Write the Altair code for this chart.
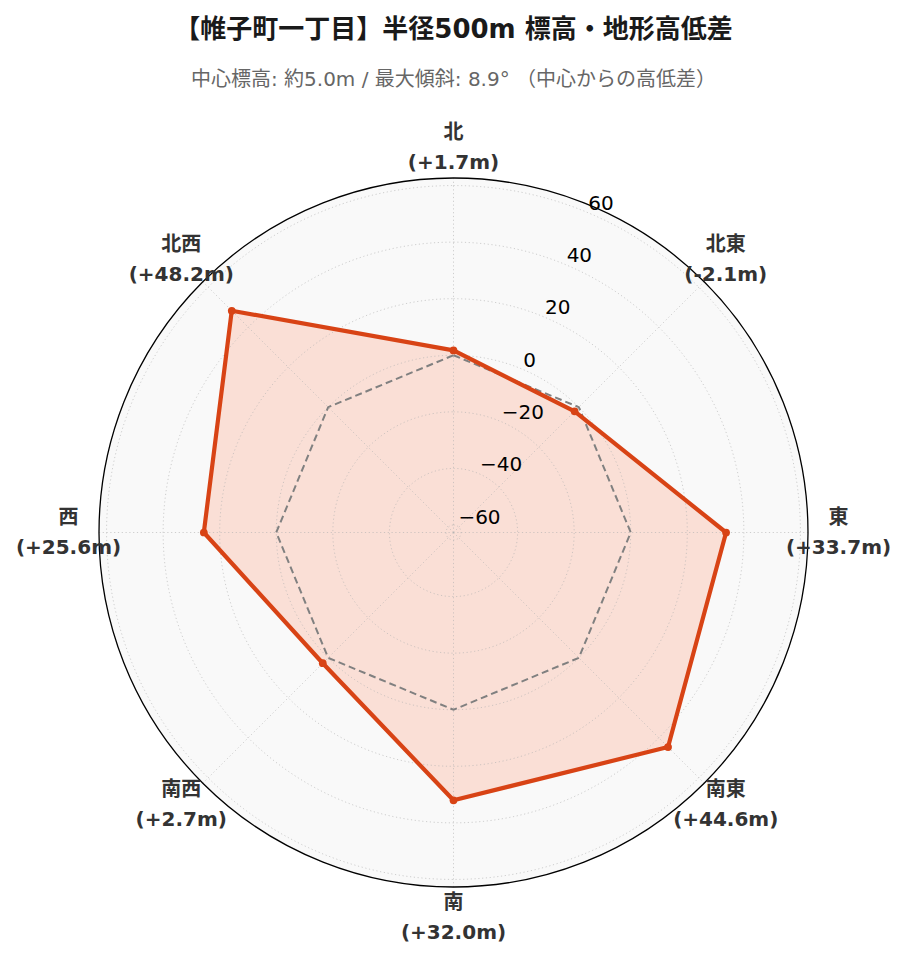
import math
import altair as alt
import pandas as pd

# ---- data ----
directions = ["北", "北東", "東", "南東", "南", "南西", "西", "北西"]
angles_deg = [0, 45, 90, 135, 180, 225, 270, 315]
diffs = [1.7, -2.1, 33.7, 44.6, 32.0, 2.7, 25.6, 48.2]
value_labels = [f"({v:+.1f}m)" for v in diffs]
r_ticks = [-60, -40, -20, 0, 20, 40, 60]
r_tick_labels = ["−60", "−40", "−20", "0", "20", "40", "60"]
R_MIN, R_MAX = -62.66, 62.66

TITLE = "【帷子町一丁目】半径500m 標高・地形高低差"
SUBTITLE = "中心標高: 約5.0m / 最大傾斜: 8.9° （中心からの高低差）"

# ---- geometry ----
W, H = 891, 845
R_PX = 354.5
SPAN = R_MAX - R_MIN
K = R_PX / SPAN
DX = W / 2 / K
DY = H / 2 / K
LABEL_R = 385 / K
TICK_ANGLE = 22.5

FONT = "DejaVu Sans, Noto Sans CJK JP"
LINE_COLOR = "#D84315"
FILL_COLOR = "#FF5722"

df_data = pd.DataFrame({
    "dir": directions,
    "angle": angles_deg,
    "value": diffs,
    "vlabel": value_labels,
    "order": list(range(len(directions))),
})
df_ticks = pd.DataFrame({"tick": r_ticks, "label": r_tick_labels})
df_disk = pd.DataFrame({"r": [SPAN]})
# angular sampling used only to trace the circular grid lines
grid_angles = list(range(0, 361, 2))
df_grid = pd.DataFrame(
    [{"tick": t, "a": a} for t in r_ticks for a in grid_angles]
)

xs = alt.Scale(domain=[-DX, DX], nice=False, zero=False)
ys = alt.Scale(domain=[-DY, DY], nice=False, zero=False)
rs = alt.Scale(type="linear", domain=[0, SPAN], range=[0, R_PX], zero=True)

X = lambda f: alt.X(f, type="quantitative", scale=xs, axis=None)
Y = lambda f: alt.Y(f, type="quantitative", scale=ys, axis=None)

base = alt.Chart(df_data)

disk = alt.Chart(df_disk).mark_arc(
    theta=0, theta2=2 * math.pi, fill="#f9f9f9", strokeWidth=0
).encode(radius=alt.Radius("r:Q", scale=rs))

border = alt.Chart(df_disk).mark_arc(
    theta=0, theta2=2 * math.pi, filled=False, stroke="#000000", strokeWidth=1.3
).encode(radius=alt.Radius("r:Q", scale=rs))

GRID_STYLE = dict(stroke="#b0b0b0", strokeOpacity=0.6, strokeWidth=1,
                  strokeDash=[1.2, 2.6])

grid_circles = alt.Chart(df_grid).transform_calculate(
    gx=f"(datum.tick - ({R_MIN})) * sin(datum.a * PI / 180)",
    gy=f"(datum.tick - ({R_MIN})) * cos(datum.a * PI / 180)",
).mark_line(**GRID_STYLE).encode(
    x=X("gx"), y=Y("gy"), detail="tick:N", order="a:Q"
)

spokes = base.transform_calculate(
    x0="0", y0="0",
    x1=f"{SPAN} * sin(datum.angle * PI / 180)",
    y1=f"{SPAN} * cos(datum.angle * PI / 180)",
).mark_rule(**GRID_STYLE).encode(x=X("x0"), y=Y("y0"), x2="x1:Q", y2="y1:Q")

zero_line = base.transform_calculate(
    px=f"(0 - ({R_MIN})) * sin(datum.angle * PI / 180)",
    py=f"(0 - ({R_MIN})) * cos(datum.angle * PI / 180)",
).mark_line(
    interpolate="linear-closed", stroke="#808080", strokeWidth=2,
    strokeDash=[7, 4]
).encode(x=X("px"), y=Y("py"), order="order:O")

pos = base.transform_calculate(
    px=f"(datum.value - ({R_MIN})) * sin(datum.angle * PI / 180)",
    py=f"(datum.value - ({R_MIN})) * cos(datum.angle * PI / 180)",
)

fill = pos.mark_line(
    interpolate="linear-closed", fill=FILL_COLOR, fillOpacity=0.16,
    strokeOpacity=0
).encode(x=X("px"), y=Y("py"), order="order:O")

line = pos.mark_line(
    interpolate="linear-closed", stroke=LINE_COLOR, strokeWidth=4.2,
    strokeJoin="round"
).encode(x=X("px"), y=Y("py"), order="order:O")

points = pos.mark_point(
    filled=True, size=60, color=LINE_COLOR, opacity=1
).encode(x=X("px"), y=Y("py"))

lab_pos = base.transform_calculate(
    lx=f"{LABEL_R} * sin(datum.angle * PI / 180)",
    ly=f"{LABEL_R} * cos(datum.angle * PI / 180)",
)
dir_text = lab_pos.mark_text(
    font=FONT, fontSize=20, fontWeight="bold", color="#333333",
    align="center", baseline="middle", dy=-15
).encode(x=X("lx"), y=Y("ly"), text="dir:N")
val_text = lab_pos.mark_text(
    font=FONT, fontSize=20, fontWeight="bold", color="#333333",
    align="center", baseline="middle", dy=15
).encode(x=X("lx"), y=Y("ly"), text="vlabel:N")

tick_text = alt.Chart(df_ticks).transform_calculate(
    tx=f"(datum.tick - ({R_MIN})) * sin({TICK_ANGLE} * PI / 180)",
    ty=f"(datum.tick - ({R_MIN})) * cos({TICK_ANGLE} * PI / 180)",
).mark_text(
    font="DejaVu Sans", fontSize=20, color="#000000",
    align="left", baseline="alphabetic", dx=2, dy=-2
).encode(x=X("tx"), y=Y("ty"), text="label:N")

chart = alt.layer(
    disk, fill, grid_circles, spokes, zero_line, line, points, border,
    tick_text, dir_text, val_text
).properties(
    width=W, height=H,
    autosize=alt.AutoSizeParams(type="pad"),
    padding={"left": 0, "top": 9, "right": 0, "bottom": 0},
    title=alt.Title(
        text=TITLE, subtitle=SUBTITLE, anchor="middle", frame="group",
        font=FONT, fontSize=26, fontWeight="bold", color="#1a1a1a",
        subtitleFont=FONT, subtitleFontSize=20, subtitleColor="#666666",
        subtitlePadding=27, offset=20,
    ),
).configure_view(stroke=None)

chart.save("out.html", embed_options={"renderer": "svg", "actions": False})
